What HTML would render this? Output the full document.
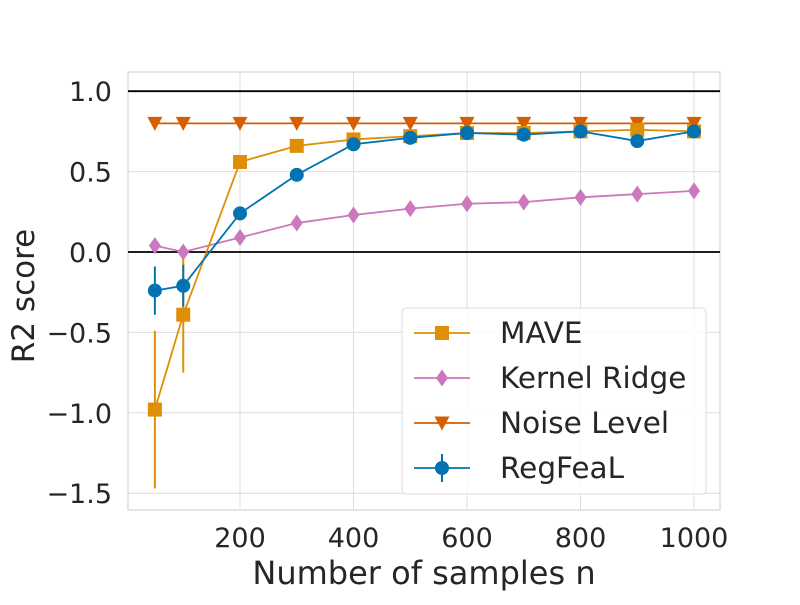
<!DOCTYPE html>
<html><head><meta charset="utf-8"><style>
body{margin:0;background:#fff;font-family:"Liberation Sans","DejaVu Sans",sans-serif}
svg text{font-family:"DejaVu Sans","Liberation Sans",sans-serif;fill:#262626}
</style></head><body>
<svg id="c" width="800" height="600"></svg>
<script>
const xs=[50,100,200,300,400,500,600,700,800,900,1000];
const mave=[-0.98,-0.39,0.56,0.66,0.70,0.72,0.74,0.74,0.75,0.76,0.75];
const maveErr=[0.49,0.36,0,0,0,0,0,0,0,0,0];
const kernel=[0.04,0.00,0.09,0.18,0.23,0.27,0.30,0.31,0.34,0.36,0.38];
const noise=[0.80,0.80,0.80,0.80,0.80,0.80,0.80,0.80,0.80,0.80,0.80];
const regfeal=[-0.24,-0.21,0.24,0.48,0.67,0.71,0.74,0.73,0.75,0.69,0.75];
const regErr=[0.15,0.13,0,0,0,0,0,0,0,0,0];
const xTicks=[200,400,600,800,1000];
const yTicks=[1.0,0.5,0.0,-0.5,-1.0,-1.5];
const yLabels=["1.0","0.5","0.0","\u22120.5","\u22121.0","\u22121.5"];
const X=v=>126.5+v*0.5675, Y=v=>252-v*160.8;
const svg=document.getElementById('c');const NS='http://www.w3.org/2000/svg';
function mk(t,a,p){const e=document.createElementNS(NS,t);for(const k in a)e.setAttribute(k,a[k]);(p||svg).appendChild(e);return e;}
const L=128,R=720,T=72,B=510;
mk('rect',{x:L,y:T,width:R-L,height:B-T,fill:'#fff',stroke:'#cccccc','stroke-width':1});
xTicks.forEach(t=>{mk('line',{x1:X(t),x2:X(t),y1:T,y2:B,stroke:'#dddddd'});
const tx=mk('text',{x:X(t),y:547,'font-size':27,'text-anchor':'middle'});tx.textContent=t;
});
yTicks.forEach((t,i)=>{mk('line',{x1:L,x2:R,y1:Y(t),y2:Y(t),stroke:'#dddddd'});
const tx=mk('text',{x:112,y:Y(t)+10,'font-size':27,'text-anchor':'end'});tx.textContent=yLabels[i];
});
[1,0].forEach(v=>mk('line',{x1:L,x2:R,y1:Y(v),y2:Y(v),stroke:'#000','stroke-width':1.8}));
const xt=mk('text',{x:424,y:584,'font-size':32,'text-anchor':'middle'});xt.textContent='Number of samples n';

const yt=mk('text',{x:0,y:0,'font-size':31,'text-anchor':'middle',transform:'translate(34,296) rotate(-90)'});yt.textContent='R2 score';

function marker(g,type,x,y,c){
 if(type==='s')mk('rect',{x:x-7,y:y-7,width:14,height:14,fill:c},g);
 else if(type==='d')mk('polygon',{points:`${x},${y-8.5} ${x+6},${y} ${x},${y+8.5} ${x-6},${y}`,fill:c},g);
 else if(type==='v')mk('polygon',{points:`${x-7.5},${y-6.5} ${x+7.5},${y-6.5} ${x},${y+7.5}`,fill:c},g);
 else mk('circle',{cx:x,cy:y,r:7,fill:c},g);}
function series(name,vals,err,c,type){
 const g=mk('g',{});
 if(err)vals.forEach((v,i)=>{if(err[i]>0)mk('line',{x1:X(xs[i]),x2:X(xs[i]),y1:Y(v-err[i]),y2:Y(v+err[i]),stroke:c,'stroke-width':2},g);});
 mk('polyline',{points:vals.map((v,i)=>X(xs[i])+','+Y(v)).join(' '),fill:'none',stroke:c,'stroke-width':1.8},g);
 vals.forEach((v,i)=>marker(g,type,X(xs[i]),Y(v),c));}
const C={m:'#de8f05',k:'#cc78bc',n:'#d55e00',r:'#0173b2'};
series('kernel-ridge-series',kernel,null,C.k,'d');
series('noise-level-series',noise,null,C.n,'v');
series('mave-series',mave,maveErr,C.m,'s');
series('regfeal-series',regfeal,regErr,C.r,'o');
const lg=mk('g',{});
mk('rect',{x:402,y:308,width:304,height:186,rx:4,fill:'#fff','fill-opacity':0.85,stroke:'#dddddd'},lg);
[['MAVE',C.m,'s'],['Kernel Ridge',C.k,'d'],['Noise Level',C.n,'v'],['RegFeaL',C.r,'o']].forEach((e,i)=>{
 const y=333+i*45;const g=mk('g',{},lg);
 mk('line',{x1:414,x2:470,y1:y,y2:y,stroke:e[1],'stroke-width':1.8},g);
 if(e[2]==='o')mk('line',{x1:442,x2:442,y1:y-14,y2:y+14,stroke:e[1],'stroke-width':2},g);
 marker(g,e[2],442,y,e[1]);
 const t=mk('text',{x:500,y:y+10,'font-size':29.5},g);t.textContent=e[0];});
</script></body></html>
